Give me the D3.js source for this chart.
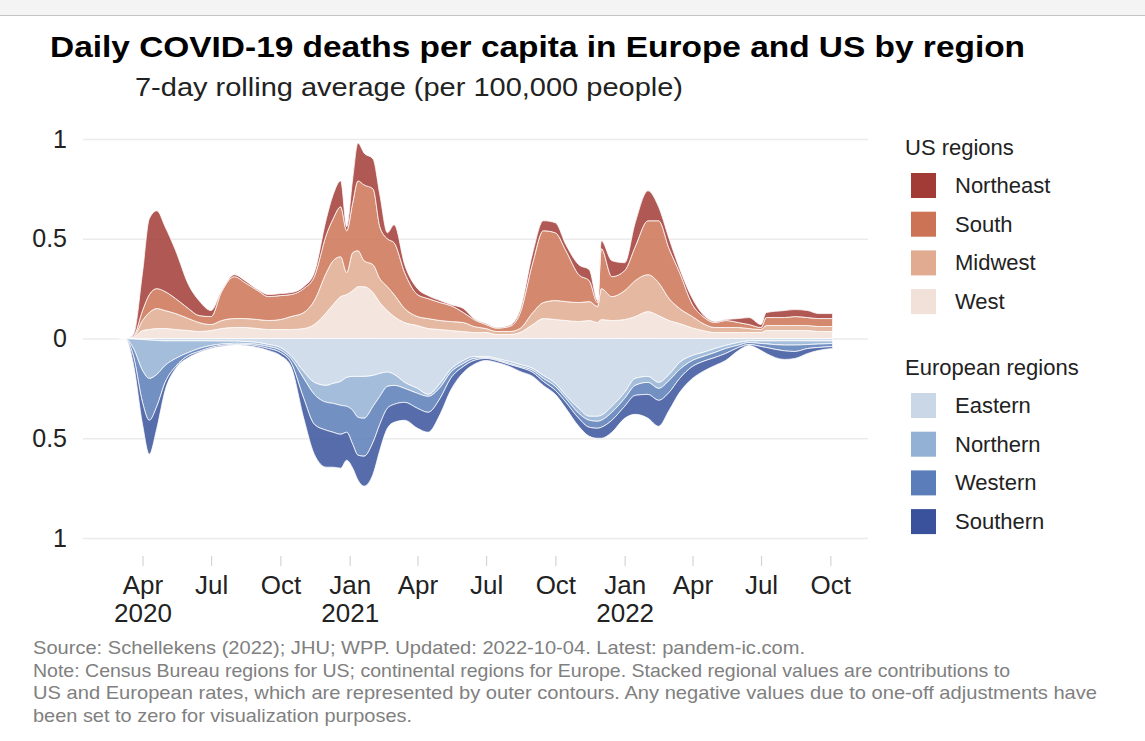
<!DOCTYPE html>
<html lang="en">
<head>
  <meta charset="UTF-8">
  <title>Daily COVID-19 deaths per capita in Europe and US by region</title>
  <style>
    body { margin: 0; background: #fff; }
    svg { font-family: "Liberation Sans", Arial, sans-serif; display: block; }
  </style>
</head>
<body>
  <svg id="chart" width="1145" height="741"></svg>
<script src="https://cdn.jsdelivr.net/npm/d3@7"></script>
<script>
  // dates of the readings (7-day rolling averages)
  var dates = [
    "2020-03-01","2020-03-10","2020-03-20","2020-04-01","2020-04-10","2020-04-20","2020-05-01","2020-05-15","2020-06-01","2020-06-15",
    "2020-07-01","2020-07-15","2020-08-01","2020-08-15","2020-09-01","2020-09-15","2020-10-01","2020-10-15","2020-11-01","2020-11-15",
    "2020-12-01","2020-12-10","2020-12-20","2020-12-28","2021-01-05","2021-01-12","2021-01-20","2021-02-01","2021-02-10","2021-02-20",
    "2021-03-01","2021-03-15","2021-04-01","2021-04-15","2021-05-01","2021-05-15","2021-06-01","2021-06-15","2021-07-01","2021-07-15",
    "2021-08-01","2021-08-15","2021-09-01","2021-09-15","2021-10-01","2021-10-15","2021-11-01","2021-11-15","2021-11-26","2021-12-01",
    "2021-12-15","2022-01-01","2022-01-15","2022-02-01","2022-02-15","2022-03-01","2022-03-15","2022-04-01","2022-04-15","2022-05-01",
    "2022-05-15","2022-06-01","2022-06-15","2022-07-01","2022-07-08","2022-08-01","2022-08-15","2022-09-01","2022-09-15","2022-10-04"
  ]

  // US regional contributions (per 100,000 US population)
  var usWest = [
    0,0,.004,.04,.045,.05,.05,.045,.04,.035,
    .04,.05,.055,.055,.05,.045,.045,.045,.05,.07,
    .13,.17,.21,.22,.24,.26,.26,.23,.18,.14,
    .11,.08,.065,.05,.045,.04,.035,.03,.03,.02,
    .02,.03,.07,.10,.095,.09,.085,.09,.08,.095,
    .09,.095,.11,.135,.115,.09,.075,.053,.04,.03,
    .03,.03,.03,.03,.04,.04,.04,.04,.035,.035
  ]
  var usMidwest = [
    0,0,.004,.05,.085,.10,.09,.08,.06,.045,
    .03,.04,.045,.045,.045,.045,.05,.065,.08,.12,
    .20,.22,.20,.11,.19,.18,.13,.14,.12,.12,
    .11,.07,.045,.05,.045,.045,.045,.03,.02,.015,
    .015,.02,.06,.08,.095,.095,.095,.095,.08,.155,
    .12,.145,.18,.185,.165,.11,.075,.057,.035,.025,
    .025,.025,.02,.015,.025,.025,.025,.025,.025,.025
  ]
  var usSouth = [
    0,0,.004,.05,.09,.10,.095,.075,.05,.035,
    .04,.145,.21,.18,.145,.12,.12,.11,.12,.12,
    .19,.21,.25,.21,.25,.35,.38,.38,.26,.24,
    .26,.18,.11,.10,.09,.08,.05,.035,.02,.017,
    .025,.075,.25,.36,.34,.255,.14,.105,.02,.20,
    .10,.10,.17,.27,.31,.25,.18,.06,.035,.025,
    .035,.025,.02,.01,.04,.04,.045,.04,.04,.04
  ]
  var usNortheast = [
    0,0,.008,.19,.38,.39,.325,.24,.12,.075,
    .03,.005,.01,.01,.005,.01,.01,.01,.01,.02,
    .08,.12,.13,.02,.12,.19,.16,.15,.16,.03,
    .09,.04,.03,.015,.01,.005,.02,.005,.005,.003,
    .005,.015,.05,.05,.05,.03,.05,.055,.01,.04,
    .08,.04,.12,.15,.07,.05,.02,.03,.01,.005,
    .005,.02,.035,.015,.025,.035,.035,.035,.025,.025
  ]

  // European regional contributions (per 100,000 European population)
  var euEastern = [
    0,.001,.003,.005,.008,.01,.012,.012,.012,.012,
    .012,.013,.013,.015,.02,.03,.045,.085,.166,.22,
    .235,.225,.215,.195,.19,.19,.19,.185,.175,.168,
    .18,.22,.25,.28,.225,.155,.11,.09,.09,.10,
    .115,.13,.15,.185,.225,.285,.35,.39,.39,.385,
    .34,.27,.2,.19,.22,.18,.12,.085,.07,.05,
    .035,.02,.012,.012,.012,.012,.012,.012,.012,.012
  ]
  var euNorthern = [
    0,.002,.047,.155,.192,.17,.123,.088,.058,.038,
    .023,.015,.011,.01,.01,.01,.013,.015,.034,.06,
    .085,.10,.12,.145,.17,.205,.21,.155,.115,.072,
    .055,.03,.025,.01,.02,.015,.015,.01,.005,.005,
    .01,.01,.01,.015,.015,.015,.025,.02,.025,.025,
    .03,.03,.035,.03,.03,.03,.035,.025,.02,.02,
    .015,.013,.008,.013,.015,.021,.021,.018,.016,.013
  ]
  var euWestern = [
    0,.001,.04,.16,.21,.16,.085,.04,.015,.015,
    .01,.007,.006,.005,.008,.01,.012,.02,.10,.15,
    .14,.145,.145,.13,.17,.19,.19,.18,.14,.11,
    .095,.07,.075,.08,.055,.03,.015,.01,.005,.005,
    .005,.005,.01,.015,.02,.02,.025,.035,.035,.035,
    .04,.04,.05,.06,.06,.06,.045,.03,.025,.025,
    .025,.012,.01,.015,.018,.029,.032,.02,.017,.015
  ]
  var euSouthern = [
    0,.001,.04,.11,.17,.11,.04,.01,.01,.005,
    .005,.005,.003,.005,.007,.01,.015,.02,.10,.15,
    .185,.175,.17,.14,.12,.125,.15,.16,.13,.10,
    .09,.09,.10,.10,.08,.06,.03,.02,.01,.01,
    .01,.02,.02,.02,.02,.03,.04,.045,.05,.055,
    .06,.06,.095,.12,.13,.09,.07,.06,.05,.04,
    .035,.015,.005,.02,.03,.043,.035,.025,.015,.01
  ]

  var usKeys = ["West", "Midwest", "South", "Northeast"]        // stacked from zero outward
  var usColors = ["#f2e1d8", "#e0ab91", "#cc7355", "#a23b35"]
  var euKeys = ["Eastern", "Northern", "Western", "Southern"]
  var euColors = ["#c9d7e6", "#93b1d5", "#5b7db9", "#39529b"]

  var tickDates = ["2020-04-01","2020-07-01","2020-10-01","2021-01-01","2021-04-01","2021-07-01",
                   "2021-10-01","2022-01-01","2022-04-01","2022-07-01","2022-10-01"]
  var tickLabels = ["Apr\n2020","Jul","Oct","Jan\n2021","Apr","Jul","Oct","Jan\n2022","Apr","Jul","Oct"]
  var yTicks = [-1, -0.5, 0, 0.5, 1]

  var parse = d3.utcParse("%Y-%m-%d")
  var rows = dates.map((d, i) => ({
    date: parse(d),
    West: usWest[i], Midwest: usMidwest[i], South: usSouth[i], Northeast: usNortheast[i],
    Eastern: euEastern[i], Northern: euNorthern[i], Western: euWestern[i], Southern: euSouthern[i]
  }))

  var left = 83, right = 868
  var svg = d3.select('#chart')

  // browser-like strip at the top of the screenshot
  svg.append('rect').attr('x', 0).attr('y', 0).attr('width', 1145).attr('height', 15).attr('fill', '#f4f4f4')
  svg.append('line').attr('x1', 0).attr('x2', 1145).attr('y1', 15.5).attr('y2', 15.5)
    .attr('stroke', '#c4c4c4').attr('stroke-width', 1)

  svg.append('text').attr('x', 50).attr('y', 57)
    .attr('font-size', 30).attr('font-weight', 'bold').attr('fill', '#000')
    .attr('textLength', 975).attr('lengthAdjust', 'spacingAndGlyphs')
    .text('Daily COVID-19 deaths per capita in Europe and US by region')
  svg.append('text').attr('x', 135).attr('y', 96)
    .attr('font-size', 25).attr('fill', '#222')
    .attr('textLength', 548).attr('lengthAdjust', 'spacingAndGlyphs')
    .text('7-day rolling average (per 100,000 people)')

  var x = d3.scaleUtc()
    .domain([parse("2020-01-13"), parse("2022-11-20")])
    .range([left, right])
  var y = d3.scaleLinear()
    .domain([-1, 1])
    .range([538, 139])

  // horizontal grid + y labels
  var yAxis = d3.axisLeft(y)
    .tickValues(yTicks)
    .tickSize(-(right - left))
    .tickPadding(16)
    .tickFormat(d => String(Math.abs(d)))
  var gy = svg.append('g').attr('transform', `translate(${left},0)`).call(yAxis)
  gy.select('.domain').remove()
  gy.selectAll('line').attr('stroke', '#ebebeb').attr('stroke-width', 1.3)
  gy.selectAll('text').attr('font-size', 25).attr('fill', '#222')
    .attr('font-family', '"Liberation Sans", Arial, sans-serif')

  var usSeries = d3.stack().keys(usKeys)(rows)
  var euSeries = d3.stack().keys(euKeys)(rows)

  var areaUp = d3.area()
    .x(d => x(d.data.date))
    .y0(d => y(d[0]))
    .y1(d => y(d[1]))
    .curve(d3.curveMonotoneX)
  var areaDown = d3.area()
    .x(d => x(d.data.date))
    .y0(d => y(-d[0]))
    .y1(d => y(-d[1]))
    .curve(d3.curveMonotoneX)

  svg.append('g').selectAll('path')
    .data(usSeries)
    .enter()
    .append('path')
    .attr('d', areaUp)
    .attr('fill', (d, i) => usColors[i])
    .attr('fill-opacity', 0.85)
    .attr('stroke', '#fff').attr('stroke-width', 0.9).attr('stroke-opacity', 0.85)

  svg.append('g').selectAll('path')
    .data(euSeries)
    .enter()
    .append('path')
    .attr('d', areaDown)
    .attr('fill', (d, i) => euColors[i])
    .attr('fill-opacity', 0.85)
    .attr('stroke', '#fff').attr('stroke-width', 0.9).attr('stroke-opacity', 0.85)

  // x axis: short ticks below the panel, two-line labels
  var xAxis = d3.axisBottom(x)
    .tickValues(tickDates.map(parse))
    .tickSize(10)
    .tickFormat((d, i) => tickLabels[i])
  var gx = svg.append('g').attr('transform', 'translate(0,556)').call(xAxis)
  gx.select('.domain').remove()
  gx.selectAll('line').attr('stroke', '#d4d4d4').attr('stroke-width', 1.2)
  gx.selectAll('text').each(function (d, i) {
    var t = d3.select(this)
    var parts = tickLabels[i].split('\n')
    t.text(null).attr('y', null).attr('dy', null)
      .attr('font-size', 26).attr('fill', '#222')
      .attr('font-family', '"Liberation Sans", Arial, sans-serif')
    parts.forEach((p, k) => t.append('tspan').attr('x', 0).attr('y', 38 + k * 27.7).text(p))
  })

  // legends
  function legend(title, keys, colors, titleY, firstTop) {
    var g = svg.append('g')
    g.append('text').attr('x', 905).attr('y', titleY)
      .attr('font-size', 22).attr('fill', '#222').text(title)
    var item = g.selectAll('g.item').data(keys).enter().append('g').attr('class', 'item')
      .attr('transform', (d, i) => `translate(911,${firstTop + i * 38.7})`)
    item.append('rect').attr('width', 25).attr('height', 25).attr('fill', (d, i) => colors[i])
    item.append('text').attr('x', 44).attr('y', 20).attr('font-size', 22).attr('fill', '#222').text(d => d)
  }
  legend('US regions', usKeys.slice().reverse(), usColors.slice().reverse(), 155, 173)
  legend('European regions', euKeys, euColors, 375, 393)

  var notes = [
    "Source: Schellekens (2022); JHU; WPP. Updated: 2022-10-04. Latest: pandem-ic.com.",
    "Note: Census Bureau regions for US; continental regions for Europe. Stacked regional values are contributions to",
    "US and European rates, which are represented by outer contours. Any negative values due to one-off adjustments have",
    "been set to zero for visualization purposes."
  ]
  var noteWidths = [772, 977, 1064, 379]
  svg.append('g').selectAll('text')
    .data(notes)
    .enter()
    .append('text')
    .attr('x', 33)
    .attr('y', (d, i) => 654 + i * 22.5)
    .attr('font-size', 18.5)
    .attr('fill', '#808080')
    .attr('textLength', (d, i) => noteWidths[i])
    .attr('lengthAdjust', 'spacingAndGlyphs')
    .text(d => d)
</script>
</body>
</html>
